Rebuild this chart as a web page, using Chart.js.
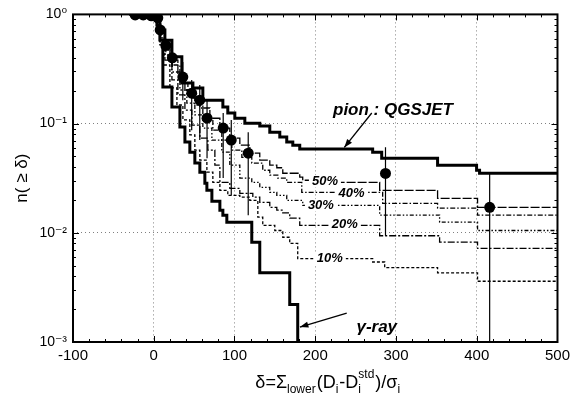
<!DOCTYPE html>
<html>
<head>
<meta charset="utf-8">
<script src="https://cdn.jsdelivr.net/npm/chart.js@4.4.1/dist/chart.umd.min.js"></script>
<style>
  html, body { margin: 0; padding: 0; background: #fff; }
  canvas { display: block; }
</style>
</head>
<body>
<canvas id="c" width="575" height="400"></canvas>
<script>
// ---------------- data ----------------
const xTickValues = [-100, 0, 100, 200, 300, 400, 500];
const xTickLabels = ['-100', '0', '100', '200', '300', '400', '500'];
const yTickValues = [0.001, 0.01, 0.1, 1];
const yTickLabels = ['10\u207B\u00B3', '10\u207B\u00B2', '10\u207B\u00B9', '10\u2070'];

// step curves: x where the level starts, level value
const pionX = [-30, 3.9, 7.6, 13.8, 22.5, 34.8, 48.5, 60.8, 85.6, 91.7, 100.4, 112.8, 131.3, 143.7, 156.1, 164.7, 172.2, 180.8, 271.1, 282.3, 351.5, 399.8, 403.5, 500];
const pionY = [1.0, 0.89, 0.72, 0.58, 0.41, 0.235, 0.212, 0.164, 0.142, 0.125, 0.112, 0.101, 0.095, 0.0834, 0.0752, 0.0677, 0.0635, 0.0584, 0.0548, 0.0481, 0.0416, 0.0374, 0.0351, 0.0351];

const p50X = [-30, 3.9, 7.6, 13.8, 20.0, 29.9, 38.6, 48.5, 57.1, 69.5, 81.9, 94.2, 106.6, 119.0, 131.3, 143.7, 152.4, 159.8, 180.8, 184.5, 195.7, 279.8, 351.5, 401.0, 500];
const p50Y = [1.0, 0.853, 0.649, 0.525, 0.382, 0.279, 0.203, 0.171, 0.139, 0.112, 0.091, 0.0735, 0.0635, 0.0536, 0.0463, 0.0416, 0.0394, 0.0351, 0.0324, 0.0303, 0.0290, 0.0245, 0.0207, 0.0171, 0.0171];

const p40X = [-30, 3.9, 7.6, 13.8, 22.5, 32.4, 42.3, 50.9, 60.8, 73.2, 84.3, 96.7, 109.1, 121.4, 135.0, 143.7, 153.6, 164.7, 183.3, 283.5, 351.5, 401.0, 500];
const p40Y = [1.0, 0.836, 0.609, 0.472, 0.344, 0.241, 0.183, 0.148, 0.112, 0.087, 0.0707, 0.0572, 0.0491, 0.0435, 0.0374, 0.0337, 0.0317, 0.0290, 0.0235, 0.0186, 0.0168, 0.0145, 0.0145];

const p30X = [-30, 3.9, 7.6, 13.8, 22.5, 32.4, 41.0, 50.9, 60.8, 72.0, 84.3, 94.2, 106.6, 121.4, 131.3, 143.7, 152.4, 164.7, 184.5, 279.8, 354.0, 401.0, 500];
const p30Y = [1.0, 0.818, 0.583, 0.425, 0.297, 0.203, 0.154, 0.120, 0.091, 0.0707, 0.0548, 0.0416, 0.0317, 0.0290, 0.0261, 0.0235, 0.0220, 0.0198, 0.0178, 0.0145, 0.0125, 0.0105, 0.0105];

const p20X = [-30, 3.9, 7.6, 13.8, 22.5, 29.9, 38.6, 47.2, 57.1, 67.0, 75.7, 81.9, 94.2, 106.6, 122.7, 131.3, 143.7, 152.4, 159.8, 168.4, 180.8, 279.8, 354.0, 401.0, 500];
const p20Y = [1.0, 0.801, 0.56, 0.382, 0.251, 0.183, 0.133, 0.097, 0.0735, 0.0572, 0.0416, 0.0290, 0.0255, 0.0230, 0.0212, 0.0190, 0.0171, 0.0161, 0.0152, 0.0136, 0.0117, 0.0094, 0.0082, 0.0072, 0.0072];

const p10X = [-30, 3.9, 7.6, 11.3, 20.0, 28.7, 36.1, 44.7, 50.9, 57.1, 65.8, 73.2, 81.9, 91.7, 106.6, 119.0, 128.9, 135.0, 149.9, 159.8, 168.4, 178.3, 271.1, 286.0, 351.5, 401.0, 500];
const p10Y = [1.0, 0.784, 0.525, 0.344, 0.212, 0.148, 0.108, 0.0787, 0.0572, 0.0463, 0.0359, 0.0290, 0.0245, 0.0220, 0.0212, 0.0198, 0.0139, 0.0117, 0.0105, 0.0091, 0.0080, 0.0058, 0.0054, 0.0048, 0.0043, 0.0036, 0.0036];

const gammaX = [-30, 3.9, 7.6, 11.3, 22.5, 32.4, 38.6, 44.7, 50.9, 57.1, 63.3, 65.8, 72.0, 81.9, 85.6, 90.5, 121.4, 131.3, 168.4, 178.3];
const gammaY = [1.0, 0.80, 0.583, 0.216, 0.142, 0.093, 0.0677, 0.0548, 0.0435, 0.0358, 0.0285, 0.0245, 0.0194, 0.0161, 0.0145, 0.0125, 0.0082, 0.0043, 0.0022, 0.0005];

// measured data points with error bars
const dataX  = [-23, -13, -3, 5, 8, 15, 23, 36, 47, 57, 66, 86, 96, 117, 287, 416];
const dataY  = [0.99, 0.99, 0.97, 0.93, 0.72, 0.52, 0.40, 0.267, 0.19, 0.164, 0.112, 0.091, 0.0706, 0.0536, 0.035, 0.0171];
const errLo  = [null, null, null, null, null, 0.45, 0.33, 0.164, 0.087, 0.0707, 0.0481, 0.0317, 0.022, 0.0145, 0.0094, 0.0005];
const errHi  = [null, null, null, null, null, 0.60, 0.48, 0.366, 0.251, 0.226, 0.164, 0.125, 0.108, 0.0834, 0.0607, 0.0358];

// annotation texts and anchors (data units)
const noteTexts = ['pion : QGSJET', '\u03B3-ray', '50%', '40%', '30%', '20%', '10%'];
const noteX     = [222, 251, 212, 245, 207, 236.5, 218];
const noteY     = [0.133, 0.00136, 0.0297, 0.0230, 0.0179, 0.01197, 0.00583];
const arrowFromX = [270, 239];
const arrowFromY = [0.125, 0.00184];
const arrowToX   = [236, 181];
const arrowToY   = [0.0605, 0.00137];

// ---------------- build ----------------
const pts = (xs, ys) => xs.map((x, i) => ({x, y: ys[i]}));
const errPts = [];
dataX.forEach((x, i) => {
  if (errLo[i] !== null) {
    errPts.push({x, y: errLo[i]}, {x, y: errHi[i]}, {x, y: null});
  }
});

const stepLine = (label, data, width, dash) => ({
  label, data, stepped: true, borderColor: '#000', borderWidth: width,
  borderDash: dash, pointRadius: 0, fill: false, spanGaps: false, tension: 0
});

const FONT = '"Liberation Sans", Arial, "DejaVu Sans", sans-serif';

const decor = {
  id: 'decor',
  afterDatasetsDraw(chart) {
    const {ctx, chartArea: a, scales: {x, y}} = chart;
    ctx.save();
    // inward ticks on all four sides
    ctx.strokeStyle = '#000';
    ctx.lineWidth = 1;
    ctx.beginPath();
    for (let v = -100; v <= 500; v += 20) {
      const px = Math.round(x.getPixelForValue(v)) + 0.5;
      const len = (v % 100 === 0) ? 6 : 3;
      ctx.moveTo(px, a.bottom); ctx.lineTo(px, a.bottom - len);
      ctx.moveTo(px, a.top); ctx.lineTo(px, a.top + len);
    }
    for (let e = -3; e < 0; e++) {
      for (let m = 1; m < 10; m++) {
        const py = Math.round(y.getPixelForValue(m * Math.pow(10, e))) + 0.5;
        const len = m === 1 ? 6 : 3;
        ctx.moveTo(a.left, py); ctx.lineTo(a.left + len, py);
        ctx.moveTo(a.right, py); ctx.lineTo(a.right - len, py);
      }
    }
    ctx.stroke();
    ctx.lineWidth = 2;
    ctx.strokeRect(a.left, a.top, a.right - a.left, a.bottom - a.top);

    // arrows
    ctx.lineWidth = 1.3;
    for (let i = 0; i < arrowFromX.length; i++) {
      const x1 = x.getPixelForValue(arrowFromX[i]), y1 = y.getPixelForValue(arrowFromY[i]);
      const x2 = x.getPixelForValue(arrowToX[i]), y2 = y.getPixelForValue(arrowToY[i]);
      const ang = Math.atan2(y2 - y1, x2 - x1);
      ctx.beginPath(); ctx.moveTo(x1, y1); ctx.lineTo(x2, y2); ctx.stroke();
      ctx.beginPath();
      ctx.moveTo(x2, y2);
      ctx.lineTo(x2 - 9 * Math.cos(ang - 0.35), y2 - 9 * Math.sin(ang - 0.35));
      ctx.lineTo(x2 - 9 * Math.cos(ang + 0.35), y2 - 9 * Math.sin(ang + 0.35));
      ctx.closePath(); ctx.fillStyle = '#000'; ctx.fill();
    }

    // annotation labels
    ctx.textBaseline = 'middle';
    noteTexts.forEach((t, i) => {
      const big = i < 2;
      ctx.font = 'italic bold ' + (big ? 17 : 13) + 'px ' + FONT;
      const px = x.getPixelForValue(noteX[i]);
      const py = y.getPixelForValue(noteY[i]);
      const w = ctx.measureText(t).width;
      if (big) {
        ctx.textAlign = 'left';
        ctx.fillStyle = '#000';
        ctx.fillText(t, px, py);
      } else {
        ctx.fillStyle = '#fff';
        ctx.fillRect(px - w / 2 - 3, py - 6, w + 6, 12);
        ctx.fillStyle = '#000';
        ctx.textAlign = 'center';
        ctx.fillText(t, px, py);
      }
    });

    // x-axis title with sub/superscripts
    const parts = [
      {t: '\u03B4=\u03A3'}, {t: 'lower', sub: true}, {t: '(D'}, {t: 'i', sub: true},
      {t: '-D'}, {t: 'i', sub: true, sup: 'std'}, {t: ')/\u03C3'}, {t: 'i', sub: true}
    ];
    const bigF = '18px ' + FONT, smallF = '12px ' + FONT;
    let total = 0;
    parts.forEach(p => {
      ctx.font = p.sub ? smallF : bigF;
      let w = ctx.measureText(p.t).width;
      if (p.sup) w = Math.max(w, ctx.measureText(p.sup).width);
      p.w = w + (p.sub ? 1 : 0);
      total += p.w;
    });
    let cx = (a.left + a.right) / 2 + 13 - total / 2;
    const base = a.bottom + 46;
    ctx.textAlign = 'left';
    ctx.textBaseline = 'alphabetic';
    ctx.fillStyle = '#000';
    parts.forEach(p => {
      if (p.sub) {
        ctx.font = smallF;
        ctx.fillText(p.t, cx, base + 5);
        if (p.sup) ctx.fillText(p.sup, cx, base - 10);
      } else {
        ctx.font = bigF;
        ctx.fillText(p.t, cx, base);
      }
      cx += p.w;
    });
    ctx.restore();
  }
};

new Chart(document.getElementById('c'), {
  type: 'line',
  data: {
    datasets: [
      stepLine('pion : QGSJET', pts(pionX, pionY), 3, []),
      stepLine('50%', pts(p50X, p50Y), 1.3, [9, 2]),
      stepLine('40%', pts(p40X, p40Y), 1.3, [5, 2, 1.5, 2]),
      stepLine('30%', pts(p30X, p30Y), 1.3, [4, 2, 1.5, 2, 1.5, 2]),
      stepLine('20%', pts(p20X, p20Y), 1.3, [7, 2, 2, 2]),
      stepLine('10%', pts(p10X, p10Y), 1.3, [3, 2]),
      stepLine('\u03B3-ray', pts(gammaX, gammaY), 3, []),
      {
        label: 'errors', data: errPts, borderColor: '#000', borderWidth: 1.2,
        pointRadius: 0, spanGaps: false, fill: false, tension: 0
      },
      {
        type: 'scatter', label: 'data', data: pts(dataX, dataY), showLine: false,
        pointRadius: 5.5, pointBackgroundColor: '#000', pointBorderColor: '#000', pointBorderWidth: 0
      }
    ]
  },
  options: {
    responsive: false,
    animation: false,
    events: [],
    layout: {padding: {left: 0, right: 17, top: 14, bottom: 0}},
    plugins: {legend: {display: false}, tooltip: {enabled: false}},
    scales: {
      x: {
        type: 'linear', min: -100, max: 500,
        afterFit: s => { s.height = 58; },
        afterBuildTicks: s => { s.ticks = xTickValues.map(v => ({value: v})); },
        ticks: {
          color: '#000', padding: 5, font: {family: FONT, size: 15},
          maxRotation: 0, autoSkip: false,
          callback: v => { const i = xTickValues.indexOf(v); return i >= 0 ? xTickLabels[i] : ''; }
        },
        grid: {
          drawTicks: false, lineWidth: 1,
          color: c => (c.tick && (c.tick.value === -100 || c.tick.value === 500)) ? 'rgba(0,0,0,0)' : '#808080'
        },
        border: {display: false, dash: [1, 3]}
      },
      y: {
        type: 'logarithmic', min: 0.001, max: 1,
        afterFit: s => { s.width = 73; },
        afterBuildTicks: s => { s.ticks = yTickValues.map(v => ({value: v})); },
        ticks: {
          color: '#000', padding: 6, font: {family: FONT, size: 14}, autoSkip: false,
          callback: v => {
            const i = yTickValues.findIndex(t => Math.abs(t - v) / t < 1e-6);
            return i >= 0 ? yTickLabels[i] : '';
          }
        },
        title: {
          display: true, text: 'n( \u2265 \u03B4)', color: '#000',
          font: {family: FONT, size: 17}, padding: {top: 12, bottom: 0}
        },
        grid: {
          drawTicks: false, lineWidth: 1,
          color: c => (c.tick && (c.tick.value === 0.001 || c.tick.value === 1)) ? 'rgba(0,0,0,0)' : '#808080'
        },
        border: {display: false, dash: [1, 3]}
      }
    }
  },
  plugins: [decor]
});
</script>
</body>
</html>
